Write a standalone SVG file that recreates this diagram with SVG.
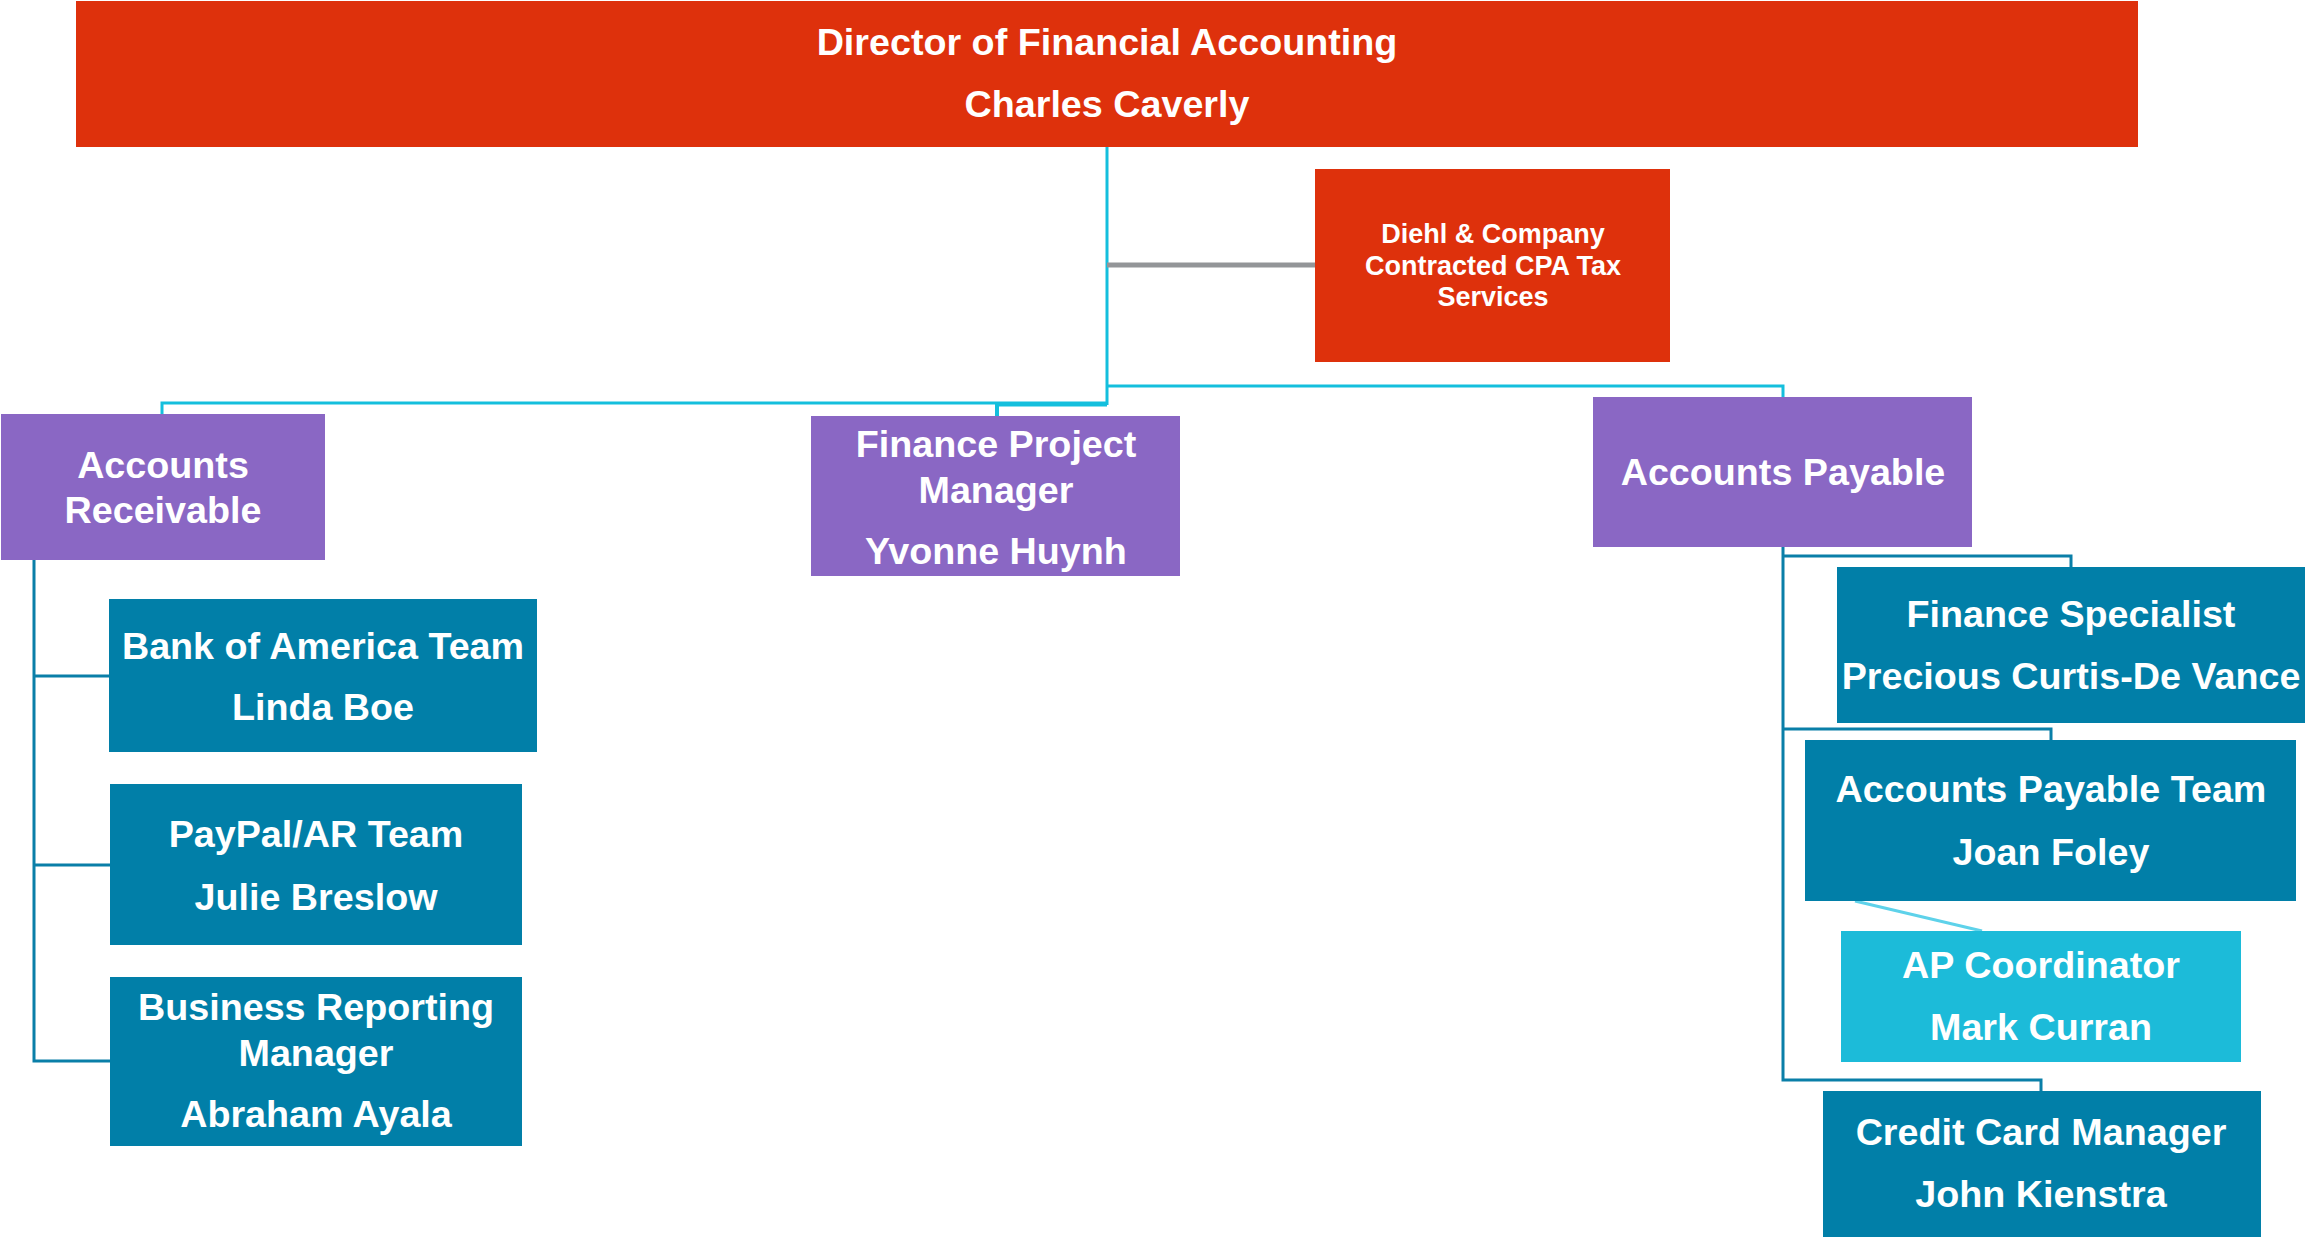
<svg xmlns="http://www.w3.org/2000/svg" width="2305" height="1237" viewBox="0 0 2305 1237">
<style>
.red{fill:#de310c}
.pur{fill:#8a67c4}
.teal{fill:#017fa8}
.cyan{fill:#1cbbd9}
text{font-family:"Liberation Sans",Arial,sans-serif;font-weight:bold;fill:#fff;text-anchor:middle}
.t37{font-size:37.7px}
.t26{font-size:27px}
.c1{fill:none;stroke:#14bfdd;stroke-width:3}
.c2{fill:none;stroke:#0a7fa8;stroke-width:3}
.c3{fill:none;stroke:#5ed2ea;stroke-width:3}
.c4{fill:none;stroke:#939598;stroke-width:5}
</style>
<rect width="2305" height="1237" fill="#fff"/>
<g id="connectors">
<path class="c1" d="M1107,146 V405"/>
<path class="c4" d="M1107,265 H1315"/>
<path class="c1" d="M1107,386 H1783 V397"/>
<path class="c1" d="M1107,403 H162 V414"/>
<path class="c1" d="M1107,404.5 H997 V416" style="stroke-width:4"/>
<path class="c2" d="M34,560 V1061 H110"/>
<path class="c2" d="M34,676 H109"/>
<path class="c2" d="M34,865 H110"/>
<path class="c2" d="M1783,547 V1080 H2041 V1091"/>
<path class="c2" d="M1783,556 H2071 V567"/>
<path class="c2" d="M1783,729 H2051 V740"/>
<path class="c3" d="M1855,901 L1982,931"/>
</g>
<g id="director">
<rect class="red" x="76" y="1" width="2062" height="146"/>
<text class="t37" x="1107" y="55">Director of Financial Accounting</text>
<text class="t37" x="1107" y="117">Charles Caverly</text>
</g>
<g id="diehl">
<rect class="red" x="1315" y="169" width="355" height="193"/>
<text class="t26" x="1493" y="243">Diehl &amp; Company</text>
<text class="t26" x="1493" y="275">Contracted CPA Tax</text>
<text class="t26" x="1493" y="306">Services</text>
</g>
<g id="accounts-receivable">
<rect class="pur" x="1" y="414" width="324" height="146"/>
<text class="t37" x="163" y="478">Accounts</text>
<text class="t37" x="163" y="523">Receivable</text>
</g>
<g id="finance-project-manager">
<rect class="pur" x="811" y="416" width="369" height="160"/>
<text class="t37" x="996" y="457">Finance Project</text>
<text class="t37" x="996" y="503">Manager</text>
<text class="t37" x="996" y="564">Yvonne Huynh</text>
</g>
<g id="accounts-payable">
<rect class="pur" x="1593" y="397" width="379" height="150"/>
<text class="t37" x="1783" y="485">Accounts Payable</text>
</g>
<g id="bank-of-america">
<rect class="teal" x="109" y="599" width="428" height="153"/>
<text class="t37" x="323" y="659">Bank of America Team</text>
<text class="t37" x="323" y="720">Linda Boe</text>
</g>
<g id="paypal">
<rect class="teal" x="110" y="784" width="412" height="161"/>
<text class="t37" x="316" y="847">PayPal/AR Team</text>
<text class="t37" x="316" y="910">Julie Breslow</text>
</g>
<g id="business-reporting">
<rect class="teal" x="110" y="977" width="412" height="169"/>
<text class="t37" x="316" y="1020">Business Reporting</text>
<text class="t37" x="316" y="1066">Manager</text>
<text class="t37" x="316" y="1127">Abraham Ayala</text>
</g>
<g id="finance-specialist">
<rect class="teal" x="1837" y="567" width="468" height="156"/>
<text class="t37" x="2071" y="627">Finance Specialist</text>
<text class="t37" x="2071" y="689">Precious Curtis-De Vance</text>
</g>
<g id="ap-team">
<rect class="teal" x="1805" y="740" width="491" height="161"/>
<text class="t37" x="2051" y="802">Accounts Payable Team</text>
<text class="t37" x="2051" y="865">Joan Foley</text>
</g>
<g id="ap-coordinator">
<rect class="cyan" x="1841" y="931" width="400" height="131"/>
<text class="t37" x="2041" y="978">AP Coordinator</text>
<text class="t37" x="2041" y="1040">Mark Curran</text>
</g>
<g id="credit-card-manager">
<rect class="teal" x="1823" y="1091" width="438" height="146"/>
<text class="t37" x="2041" y="1145">Credit Card Manager</text>
<text class="t37" x="2041" y="1207">John Kienstra</text>
</g>
</svg>
